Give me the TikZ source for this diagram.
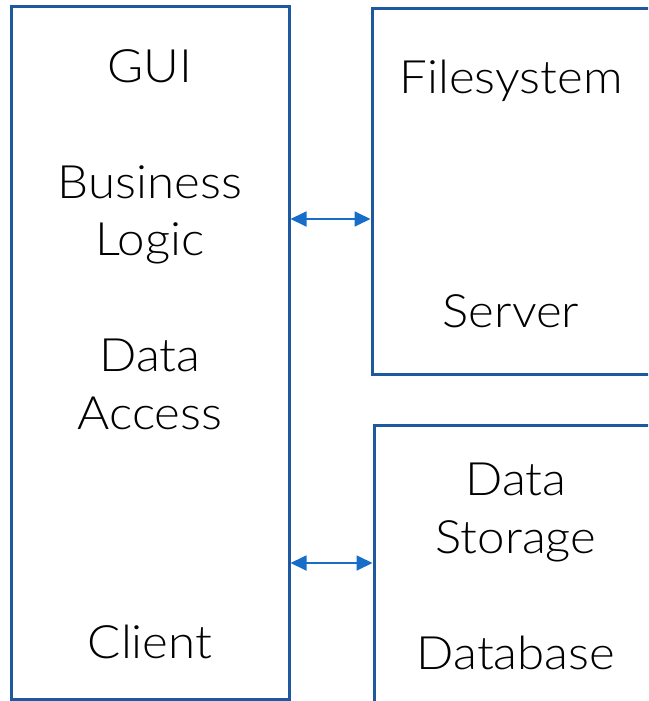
\documentclass[tikz,border=0pt]{standalone}
\usepackage{fontspec}
\setmainfont{Lato Light}[FakeStretch=1.07]
\usetikzlibrary{arrows.meta}
\definecolor{boxblue}{RGB}{30,88,158}
\definecolor{arrowblue}{RGB}{22,110,200}
\tikzset{
  box/.style={draw=boxblue, line width=3pt, fill=none, inner sep=0pt},
  lbl/.style={anchor=base, inner sep=0pt, font=\fontsize{46}{55}\selectfont},
  link/.style={draw=arrowblue, line width=1.8pt, {Triangle[length=16pt,width=15pt]}-{Triangle[length=16pt,width=15pt]}}
}
\begin{document}
\begin{tikzpicture}[x=1pt,y=-1pt]
\useasboundingbox (0,0) rectangle (648,701);
\clip (0,0) rectangle (648,701);
\node[box, minimum width=278pt, minimum height=692pt] (client) at (150,353) {};
\node[box, minimum width=300pt, minimum height=365pt] (server) at (522,191.5) {};
\node[box, minimum width=300pt, minimum height=320pt] (db) at (524,585) {};
\node[lbl] (gui) at (150,82) {GUI};
\node[lbl] (bus) at (150,198) {Business};
\node[lbl] (logic) at (150,255) {Logic};
\node[lbl] (data) at (150,371) {Data};
\node[lbl] (access) at (150,429) {Access};
\node[lbl] (cl) at (150,658) {Client};
\node[lbl] (fs) at (511,93) {Filesystem};
\node[lbl] (sv) at (511,327) {Server};
\node[lbl] (ds1) at (516,495) {Data};
\node[lbl] (ds2) at (516,553) {Storage};
\node[lbl] (dbl) at (516,669) {Database};
\coordinate (a1) at (client.east |- 0,219);
\coordinate (a2) at (server.west |- 0,219);
\coordinate (b1) at (client.east |- 0,563);
\coordinate (b2) at (db.west |- 0,563);
\draw[link] (a1) -- (a2);
\draw[link] (b1) -- (b2);
\end{tikzpicture}
\end{document}
